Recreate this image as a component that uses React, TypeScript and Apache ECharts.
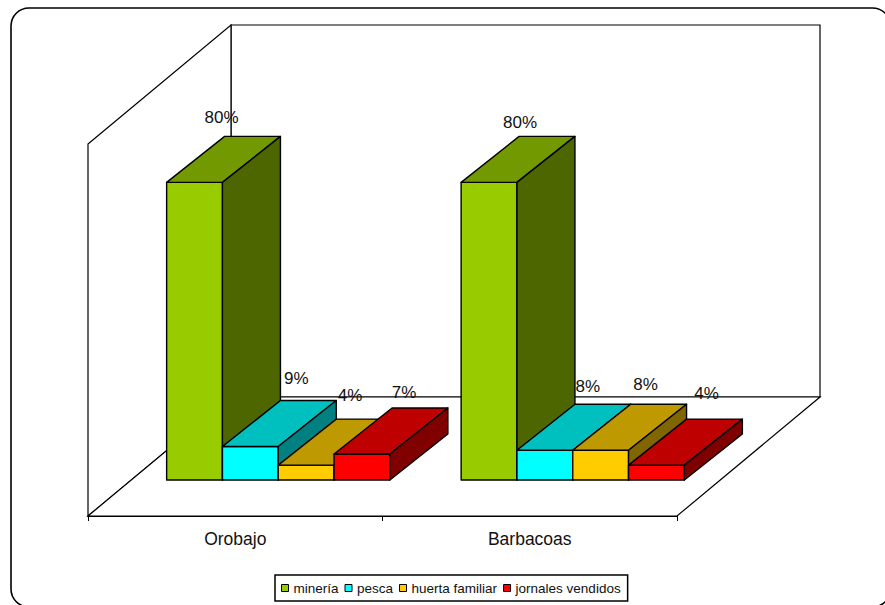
import React, { useEffect, useRef } from "react";
import * as echarts from "echarts";

const categories = ["Orobajo", "Barbacoas"];
const seriesNames = ["minería", "pesca", "huerta familiar", "jornales vendidos"];
const minería = [80, 80];
const pesca = [9, 8];
const huerta = [4, 8];
const jornales = [7, 4];
const seriesValues = [minería, pesca, huerta, jornales];
const faceColors = [
  ["#99CC00", "#739900", "#4D6600"],
  ["#00FFFF", "#00BFBF", "#008080"],
  ["#FFCC00", "#BF9900", "#806600"],
  ["#FF0000", "#BF0000", "#800000"],
];

// layout constants (pixels)
const WALL_DX = 143;
const WALL_DY = -119;
const BAR_SHIFT_X = 43;
const BAR_SHIFT_Y = -36;
const BAR_DX = 58;
const BAR_DY = -46;
const BAR_BAND_FRACTION = 0.1895;
const LABEL_NUDGE = [
  [[27, -64.5], [46, -68.5], [44, -69.5], [42, -61.5]],
  [[31, -59.5], [43, -63.5], [45, -65.5], [50, -71.5]],
];

const line = { stroke: "#000", lineWidth: 1.2, fill: "none" };

function renderWalls(params: any) {
  const g = params.coordSys;
  const x0 = g.x, x1 = g.x + g.width, yb = g.y + g.height, yt = g.y;
  const pts = (points: number[][], style: any) => ({ type: "polygon", shape: { points }, style });
  return {
    type: "group",
    children: [
      pts(
        [[x0 + WALL_DX, yt + WALL_DY], [x1 + WALL_DX, yt + WALL_DY], [x1 + WALL_DX, yb + WALL_DY], [x0 + WALL_DX, yb + WALL_DY]],
        { ...line, fill: "#fff" }
      ),
      pts(
        [[x0, yt], [x0 + WALL_DX, yt + WALL_DY], [x0 + WALL_DX, yb + WALL_DY], [x0, yb]],
        { ...line, fill: "#fff" }
      ),
      pts(
        [[x0, yb], [x0 + WALL_DX, yb + WALL_DY], [x1 + WALL_DX, yb + WALL_DY], [x1, yb]],
        { ...line, fill: "#fff" }
      ),
    ],
  };
}

function barRenderer(seriesIndex: number) {
  return (_params: any, api: any) => {
    const cat = api.value(0);
    const val = api.value(1);
    const top = api.coord([cat, val]);
    const base = api.coord([cat, 0]);
    const band = api.size([1, 0])[0];
    const w = band * BAR_BAND_FRACTION;
    const l = top[0] + BAR_SHIFT_X + (seriesIndex - 2) * w;
    const r = l + w;
    const t = top[1] + BAR_SHIFT_Y;
    const b = base[1] + BAR_SHIFT_Y;
    const [front, topC, side] = faceColors[seriesIndex];
    const st = (fill: string) => ({ fill, stroke: "#000", lineWidth: 1.4, lineJoin: "round" });
    return {
      type: "group",
      children: [
        { type: "polygon", shape: { points: [[l, t], [r, t], [r, b], [l, b]] }, style: st(front) },
        { type: "polygon", shape: { points: [[l, t], [r, t], [r + BAR_DX, t + BAR_DY], [l + BAR_DX, t + BAR_DY]] }, style: st(topC) },
        { type: "polygon", shape: { points: [[r, t], [r + BAR_DX, t + BAR_DY], [r + BAR_DX, b + BAR_DY], [r, b]] }, style: st(side) },
      ],
    };
  };
}

function labelRenderer(seriesIndex: number) {
  return (_params: any, api: any) => {
    const cat = api.value(0);
    const val = api.value(1);
    const top = api.coord([cat, val]);
    const w = api.size([1, 0])[0] * BAR_BAND_FRACTION;
    const cx = top[0] + BAR_SHIFT_X + (seriesIndex - 1.5) * w;
    const [nx, ny] = LABEL_NUDGE[cat][seriesIndex];
    return {
      type: "text",
      x: cx + nx,
      y: top[1] + BAR_SHIFT_Y + ny,
      style: {
        text: `${val}%`,
        fill: "#111",
        fontSize: 17,
        fontFamily: "Liberation Sans",
        align: "center",
        verticalAlign: "middle",
      },
    };
  };
}

export default function App() {
  const ref = useRef<HTMLDivElement>(null);
  useEffect(() => {
    const chart = echarts.init(ref.current!, undefined, { renderer: "svg" });
    const toData = (vals: number[]) => vals.map((v, i) => [i, v]);
    chart.setOption({
      animation: false,
      backgroundColor: "#fff",
      graphic: [
        {
          type: "rect",
          z: -10,
          silent: true,
          shape: { x: 11, y: 8, width: 879.5, height: 599, r: 18 },
          style: { fill: "#fff", stroke: "#000", lineWidth: 1.6 },
        },
      ],
      grid: { left: 88, top: 144, width: 589, height: 372 },
      xAxis: {
        type: "category",
        data: categories,
        boundaryGap: true,
        axisLine: { lineStyle: { color: "#000", width: 1.2 } },
        axisTick: { show: true, length: 5, alignWithLabel: false, lineStyle: { color: "#000" } },
        axisLabel: { color: "#111", fontSize: 17.5, fontFamily: "Liberation Sans", margin: 14 },
        z: 5,
      },
      yAxis: { type: "value", min: 0, max: 100, show: false, splitLine: { show: false } },
      legend: {
        data: seriesNames,
        left: 275,
        top: 575,
        orient: "horizontal",
        icon: "rect",
        itemWidth: 7,
        itemHeight: 7,
        itemGap: 6,
        padding: [6, 7, 6, 6],
        backgroundColor: "#fff",
        borderColor: "#000",
        borderWidth: 1.5,
        selectedMode: false,
        itemStyle: { borderColor: "#000", borderWidth: 1 },
        textStyle: { color: "#111", fontSize: 13.5, fontFamily: "Liberation Sans" },
      },
      series: [
        {
          type: "custom",
          name: "walls",
          silent: true,
          z: 1,
          data: [[0, 0]],
          renderItem: renderWalls,
        },
        ...seriesNames.map((name, i) => ({
          type: "custom",
          name,
          silent: true,
          z: 2 + i,
          clip: false,
          itemStyle: { color: faceColors[i][0] },
          encode: { x: 0, y: 1 },
          data: toData(seriesValues[i]),
          renderItem: barRenderer(i),
        })),
        ...seriesNames.map((name, i) => ({
          type: "custom",
          name: `${name} etiqueta`,
          silent: true,
          z: 10,
          clip: false,
          encode: { x: 0, y: 1 },
          data: toData(seriesValues[i]),
          renderItem: labelRenderer(i),
        })),
      ],
    });
    return () => chart.dispose();
  }, []);
  return (
    <div
      ref={ref}
      style={{ position: "fixed", left: 0, top: 0, width: 885, height: 605 }}
    />
  );
}
